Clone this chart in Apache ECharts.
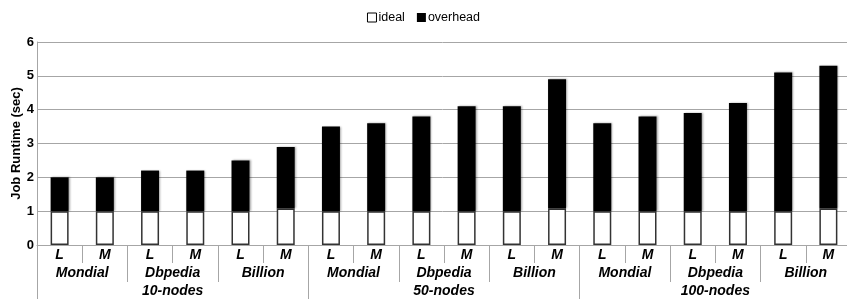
<!DOCTYPE html>
<html>
<head>
<meta charset="utf-8">
<script src="https://cdn.jsdelivr.net/npm/echarts@6/dist/echarts.min.js"></script>
<style>
  html, body { margin: 0; padding: 0; background: #fff; }
  #chart { width: 847px; height: 299px; }
</style>
</head>
<body>
<div id="chart"></div>
<script>
// bar level (engine), dataset level, cluster level
const engines = ['L', 'M', 'L', 'M', 'L', 'M', 'L', 'M', 'L', 'M', 'L', 'M', 'L', 'M', 'L', 'M', 'L', 'M']
const datasets = ['Mondial', 'Dbpedia', 'Billion', 'Mondial', 'Dbpedia', 'Billion', 'Mondial', 'Dbpedia', 'Billion']
const clusters = ['10-nodes', '50-nodes', '100-nodes']

const ideal = [1, 1, 1, 1, 1, 1.08, 1, 1, 1, 1, 1, 1.08, 1, 1, 1, 1, 1, 1.08]
const overhead = [1.0, 1.0, 1.2, 1.2, 1.5, 1.82, 2.5, 2.6, 2.8, 3.1, 3.1, 3.82, 2.6, 2.8, 2.9, 3.2, 4.1, 4.22]

const gridGrey = '#a6a6a6'
const labelFont = {
  fontFamily: 'Liberation Sans, Arial, sans-serif',
  fontWeight: 'bold',
  fontStyle: 'italic',
  fontSize: 14,
  color: '#000'
}

const chart = echarts.init(document.getElementById('chart'))
const option = {
  animation: false,
  legend: {
    top: 6,
    left: 'center',
    icon: 'rect',
    itemWidth: 9,
    itemHeight: 9,
    itemGap: 12,
    textStyle: { fontFamily: 'Liberation Sans, Arial, sans-serif', fontSize: 12.5, color: '#000', padding: [0, 0, 0, -3] },
    data: [
      { name: 'ideal', itemStyle: { color: '#fff', borderColor: '#000', borderWidth: 1 } },
      { name: 'overhead', itemStyle: { color: '#000' } }
    ]
  },
  grid: { left: 37, top: 42, width: 814, bottom: 54, containLabel: false, outerBoundsMode: 'none' },
  xAxis: [
    {
      type: 'category',
      data: engines,
      axisLine: { show: true, lineStyle: { color: gridGrey } },
      axisTick: { show: true, interval: 0, length: 18, lineStyle: { color: gridGrey } },
      axisLabel: Object.assign({ interval: 0, margin: 3 }, labelFont)
    },
    {
      type: 'category',
      data: datasets,
      position: 'bottom',
      axisLine: { show: false },
      axisTick: { show: true, interval: 0, length: 37, lineStyle: { color: gridGrey } },
      axisLabel: Object.assign({ interval: 0, margin: 21 }, labelFont)
    },
    {
      type: 'category',
      data: clusters,
      position: 'bottom',
      axisLine: { show: false },
      axisTick: { show: true, interval: 0, length: 60, lineStyle: { color: gridGrey } },
      axisLabel: Object.assign({ interval: 0, margin: 39 }, labelFont)
    }
  ],
  yAxis: {
    type: 'value',
    min: 0,
    max: 6,
    interval: 1,
    name: 'Job Runtime (sec)',
    nameLocation: 'middle',
    nameGap: 14,
    nameMoveOverlap: false,
    nameTextStyle: { fontFamily: 'Liberation Sans, Arial, sans-serif', fontWeight: 'bold', fontSize: 13, color: '#000' },
    axisLine: { show: true, lineStyle: { color: gridGrey } },
    axisTick: { show: false },
    axisLabel: { margin: 3, fontFamily: 'Liberation Sans, Arial, sans-serif', fontWeight: 'bold', fontSize: 13, color: '#000' },
    splitLine: { lineStyle: { color: gridGrey } }
  },
  series: [
    {
      name: 'ideal',
      type: 'bar',
      stack: 'total',
      barWidth: 18,
      data: ideal,
      itemStyle: { color: '#fff', borderColor: '#333', borderWidth: 1.5 }
    },
    {
      name: 'overhead',
      type: 'bar',
      stack: 'total',
      barWidth: 18,
      data: overhead,
      itemStyle: { color: '#000', shadowColor: 'rgba(0,0,0,0.35)', shadowBlur: 2, shadowOffsetX: 1 }
    }
  ]
}
chart.setOption(option)
</script>
</body>
</html>
